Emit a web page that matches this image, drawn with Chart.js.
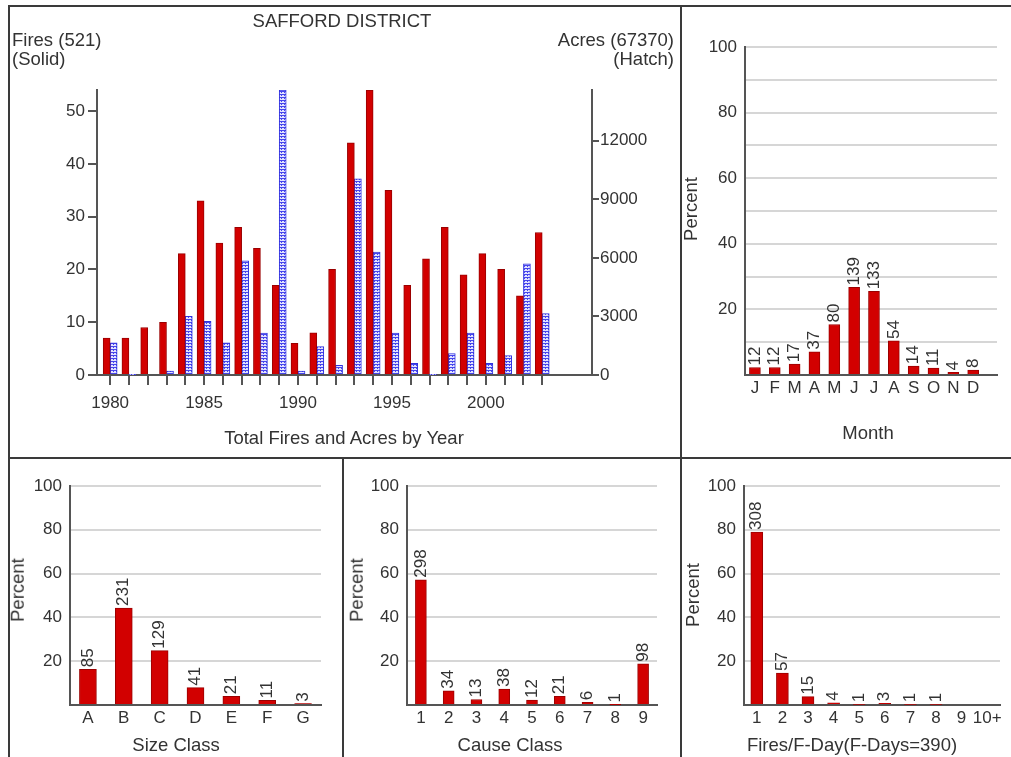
<!DOCTYPE html>
<html>
<head>
<meta charset="utf-8">
<script src="https://cdn.jsdelivr.net/npm/chart.js@4.4.1/dist/chart.umd.min.js"></script>
<style>
body{margin:0;background:#fff;width:1011px;height:757px;position:relative;overflow:hidden;font-family:'Liberation Sans',Arial,sans-serif;color:#333}
canvas{position:absolute}
.ln{position:absolute;background:#3a3a3a}
.t{position:absolute;font-size:18.5px;line-height:1;white-space:nowrap;transform:translate(-50%,-50%)}
.t.l{transform:translate(0,-50%)}
.t.r{transform:translate(-100%,-50%)}
.t.v{transform:translate(-50%,-50%) rotate(-90deg)}
</style>
</head>
<body>
<!-- frame -->
<div class="ln" style="left:8px;top:5px;width:1003px;height:2px"></div>
<div class="ln" style="left:8px;top:5px;width:2px;height:752px"></div>
<div class="ln" style="left:680px;top:5px;width:2px;height:752px"></div>
<div class="ln" style="left:8px;top:457px;width:1003px;height:2px"></div>
<div class="ln" style="left:342px;top:457px;width:2px;height:300px"></div>

<canvas id="main" width="670" height="450" style="left:10px;top:7px"></canvas>
<canvas id="month" width="329" height="450" style="left:682px;top:7px"></canvas>
<canvas id="size" width="332" height="298" style="left:10px;top:459px"></canvas>
<canvas id="cause" width="336" height="298" style="left:344px;top:459px"></canvas>
<canvas id="fday" width="329" height="298" style="left:682px;top:459px"></canvas>

<div class="t" style="left:342px;top:21px">SAFFORD DISTRICT</div>
<div class="t l" style="left:12px;top:40px">Fires (521)</div>
<div class="t l" style="left:12px;top:59px">(Solid)</div>
<div class="t r" style="left:674px;top:40px">Acres (67370)</div>
<div class="t r" style="left:674px;top:59px">(Hatch)</div>
<div class="t" style="left:344px;top:438px">Total Fires and Acres by Year</div>

<div class="t v" style="left:691px;top:209px">Percent</div>
<div class="t" style="left:868px;top:433px">Month</div>

<div class="t v" style="left:18px;top:590px">Percent</div>
<div class="t" style="left:176px;top:745px">Size Class</div>
<div class="t v" style="left:357px;top:590px">Percent</div>
<div class="t" style="left:510px;top:745px">Cause Class</div>
<div class="t v" style="left:693px;top:595px">Percent</div>
<div class="t" style="left:852px;top:745px">Fires/F-Day(F-Days=390)</div>

<script>
// data
var years = [1980, 1981, 1982, 1983, 1984, 1985, 1986, 1987, 1988, 1989, 1990, 1991,
             1992, 1993, 1994, 1995, 1996, 1997, 1998, 1999, 2000, 2001, 2002, 2003];
var fires = [7, 7, 9, 10, 23, 33, 25, 28, 24, 17, 6, 8, 20, 44, 54, 35, 17, 22, 28, 19, 23, 20, 15, 27];
var acres = [1650, 20, 0, 200, 3000, 2750, 1650, 5850, 2150, 14600, 200, 1450,
             500, 10050, 6300, 2150, 600, 20, 1100, 2150, 600, 1000, 5700, 3150];
var fireTicks = [0, 10, 20, 30, 40, 50];
var acreTicks = [0, 3000, 6000, 9000, 12000];

var months = ['J', 'F', 'M', 'A', 'M', 'J', 'J', 'A', 'S', 'O', 'N', 'D'];
var monthPct = [2.3, 2.3, 3.3, 7.1, 15.4, 26.7, 25.5, 10.4, 2.7, 2.1, 0.8, 1.5];
var monthCount = [12, 12, 17, 37, 80, 139, 133, 54, 14, 11, 4, 8];

var sizeClasses = ['A', 'B', 'C', 'D', 'E', 'F', 'G'];
var sizePct = [16.3, 44.3, 24.8, 7.9, 4.0, 2.1, 0.6];
var sizeCount = [85, 231, 129, 41, 21, 11, 3];

var causeClasses = ['1', '2', '3', '4', '5', '6', '7', '8', '9'];
var causePct = [57.2, 6.5, 2.5, 7.3, 2.3, 4.0, 1.2, 0.2, 18.8];
var causeCount = [298, 34, 13, 38, 12, 21, 6, 1, 98];

var fdayClasses = ['1', '2', '3', '4', '5', '6', '7', '8', '9', '10+'];
var fdayPct = [79.0, 14.6, 3.8, 1.0, 0.3, 0.8, 0.3, 0.3, 0, 0];
var fdayCount = [308, 57, 15, 4, 1, 3, 1, 1, null, null];
// end data

var RED = '#d20000', REDEDGE = '#9a0000', BLUE = '#3030e0', AXIS = '#555', GRID = '#d6d6d6';
var FONT = "'Liberation Sans', Arial, sans-serif";

Chart.defaults.font.family = FONT;
Chart.defaults.font.size = 17;
Chart.defaults.color = '#333';

// hatch fill for the acres bars
var pc = document.createElement('canvas');
pc.width = 3; pc.height = 3;
var pctx = pc.getContext('2d');
pctx.fillStyle = '#e2e2ff';
pctx.fillRect(0, 0, 3, 3);
pctx.fillStyle = '#4646ec';
pctx.fillRect(0, 0, 3, 1);
pctx.fillRect(1, 1, 1, 1);
var hatch = pctx.createPattern(pc, 'repeat');

var base = {
    responsive: false,
    animation: false,
    devicePixelRatio: 1,
    plugins: { legend: { display: false }, tooltip: { enabled: false } }
};

function fixedTicks(list) {
    return function (s) { s.ticks = list.map(function (v) { return { value: v }; }); };
}

var main = new Chart(document.getElementById('main'), {
    type: 'bar',
    data: {
        datasets: [
            {
                data: years.map(function (y, i) { return { x: y, y: fires[i] }; }),
                yAxisID: 'y',
                backgroundColor: RED, borderColor: REDEDGE, borderWidth: 1,
                barThickness: 7
            },
            {
                data: years.map(function (y, i) { return { x: y, y: acres[i] }; }),
                yAxisID: 'y2',
                backgroundColor: hatch, borderColor: BLUE, borderWidth: 1,
                barThickness: 7
            }]
    },
    options: Object.assign({}, base, {
        layout: { padding: { top: 83, left: 0, right: 0, bottom: 0 } },
        scales: {
            x: {
                type: 'linear', min: 1979.3, max: 2005.65, offset: false,
                afterBuildTicks: fixedTicks(years),
                afterFit: function (s) { s.height = 82; },
                grid: { offset: false, drawOnChartArea: false, tickLength: 10, tickColor: AXIS, lineWidth: 2 },
                border: { color: AXIS, width: 2 },
                ticks: { padding: 8, autoSkip: false, maxRotation: 0,
                         callback: function (v) { return v % 5 === 0 ? String(v) : ''; } }
            },
            y: {
                position: 'left', min: 0, max: 54,
                afterBuildTicks: fixedTicks(fireTicks),
                afterFit: function (s) { s.width = 87; },
                grid: { drawOnChartArea: false, tickLength: 9, tickColor: AXIS, lineWidth: 2 },
                border: { color: AXIS, width: 2 },
                ticks: { padding: 3 }
            },
            y2: {
                position: 'right', min: 0, max: 14600,
                afterBuildTicks: fixedTicks(acreTicks),
                afterFit: function (s) { s.width = 88; },
                grid: { drawOnChartArea: false, tickLength: 7, tickColor: AXIS, lineWidth: 2 },
                border: { color: AXIS, width: 2 },
                ticks: { padding: 1, callback: function (v) { return String(v); } }
            }
        }
    })
});

// rotated count above each bar
function countLabels(counts) {
    return {
        id: 'counts',
        afterDatasetsDraw: function (chart) {
            var ctx = chart.ctx;
            chart.getDatasetMeta(0).data.forEach(function (bar, i) {
                if (counts[i] == null) return;
                ctx.save();
                ctx.translate(bar.x, bar.y - 2);
                ctx.rotate(-Math.PI / 2);
                ctx.font = '17px ' + FONT;
                ctx.fillStyle = '#333';
                ctx.textAlign = 'left';
                ctx.textBaseline = 'middle';
                ctx.fillText(String(counts[i]), 0, 0);
                ctx.restore();
            });
        }
    };
}

function pctPanel(id, cats, pct, counts, g) {
    return new Chart(document.getElementById(id), {
        type: 'bar',
        data: {
            datasets: [{
                data: cats.map(function (c, i) { return { x: i, y: pct[i] }; }),
                backgroundColor: RED, borderColor: REDEDGE, borderWidth: 1,
                barThickness: g.bar
            }]
        },
        options: Object.assign({}, base, {
            layout: { padding: { top: g.top, right: g.right, left: 0, bottom: 0 } },
            scales: {
                x: {
                    type: 'linear', min: -0.5, max: cats.length - 0.5 + (g.extra || 0), offset: false,
                    afterBuildTicks: function (s) { s.ticks = cats.map(function (c, i) { return { value: i }; }); },
                    afterFit: function (s) { s.height = g.xh; },
                    grid: { display: false, drawTicks: false, offset: false },
                    border: { color: AXIS, width: 2 },
                    ticks: { padding: 3, autoSkip: false, maxRotation: 0,
                             callback: function (v) { return cats[v]; } }
                },
                y: {
                    min: 0, max: 100,
                    afterFit: function (s) { s.width = g.yw; },
                    grid: {
                        drawTicks: false, lineWidth: 2,
                        color: function (c) { return (c.tick && c.tick.value === 0) ? 'rgba(0,0,0,0)' : GRID; }
                    },
                    border: { color: AXIS, width: 2 },
                    ticks: { stepSize: 10, padding: 8,
                             callback: function (v) { return (v > 0 && v % 20 === 0) ? String(v) : ''; } }
                }
            }
        }),
        plugins: [countLabels(counts)]
    });
}

pctPanel('month', months, monthPct, monthCount, { top: 40, right: 14, yw: 63, xh: 82, bar: 11, extra: 0.7 });
pctPanel('size', sizeClasses, sizePct, sizeCount, { top: 27, right: 21, yw: 60, xh: 52, bar: 17 });
pctPanel('cause', causeClasses, causePct, causeCount, { top: 27, right: 23, yw: 63, xh: 52, bar: 11 });
pctPanel('fday', fdayClasses, fdayPct, fdayCount, { top: 27, right: 11, yw: 62, xh: 52, bar: 12 });
</script>
</body>
</html>
